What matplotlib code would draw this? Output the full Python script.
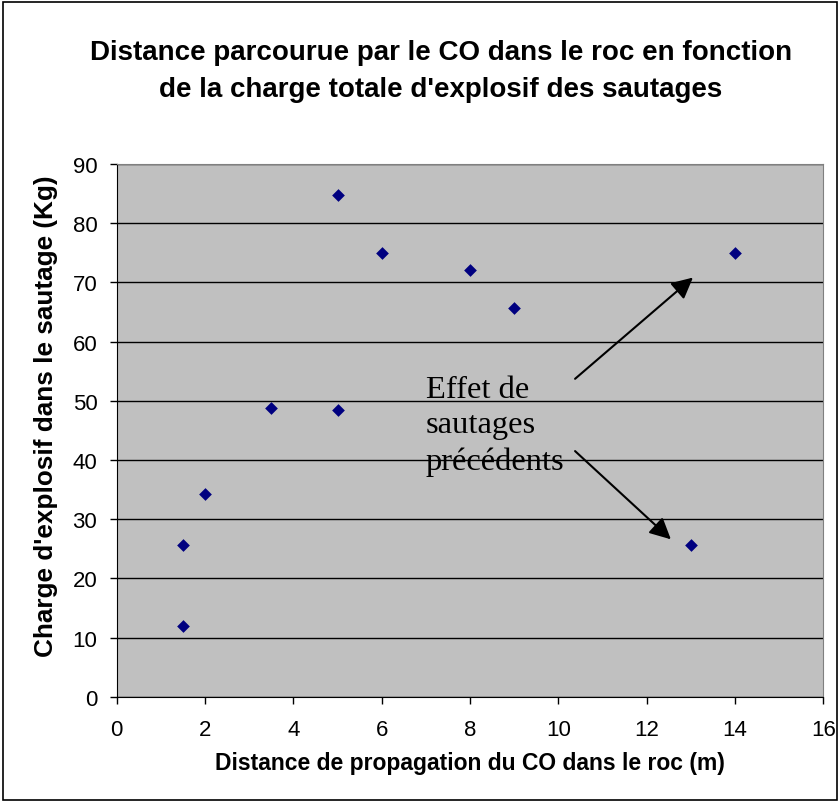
#!/usr/bin/env python3

"""
Scatter: CO propagation distance vs total explosive charge.
"""

import matplotlib
matplotlib.use("Agg")
import matplotlib.pyplot as plt
from matplotlib.patches import Rectangle

distance = [1.5, 1.5, 2, 3.5, 5, 5, 6, 8, 9, 13, 14]
charge = [12, 25.7, 34.3, 48.8, 48.5, 84.7, 75, 72, 65.7, 25.7, 75]

x_ticks = list(range(0, 17, 2))
y_ticks = list(range(0, 91, 10))

title = ("Distance parcourue par le CO dans le roc en fonction\n"
         "de la charge totale d'explosif des sautages")
x_label = "Distance de propagation du CO dans le roc (m)"
y_label = "Charge d'explosif dans le sautage (Kg)"
note = "Effet de\nsautages\nprécédents"

# arrow (tail, head) in data coords
arrows = [((10.38, 53.7), (13.05, 70.8)),
          ((10.38, 41.5), (12.55, 26.6))]


def main():
    plt.rcParams['font.family'] = ['Liberation Sans', 'DejaVu Sans']
    fig = plt.figure(figsize=(8.4, 8.04), dpi=100)
    ax = fig.add_axes([0.139, 0.132, 0.841, 0.663])

    # outer chart border
    fig.patches.append(Rectangle((0.004, 0.004), 0.992, 0.992, transform=fig.transFigure,
                                 fill=False, edgecolor='black', linewidth=1.2))

    ax.set_facecolor('#c0c0c0')
    ax.scatter(distance, charge, marker='D', s=42, color='#000080', zorder=3,
               linewidths=0)

    ax.set_xlim(0, 16)
    ax.set_ylim(0, 90)
    ax.set_xticks(x_ticks)
    ax.set_yticks(y_ticks)
    ax.tick_params(direction='out', length=5, labelsize=16, width=1)
    ax.tick_params(axis='x', pad=11)
    ax.tick_params(axis='y', pad=9)
    ax.yaxis.grid(True, color='black', linewidth=1)
    ax.set_axisbelow(True)
    for side in ['top', 'right']:
        ax.spines[side].set_color('#808080')
    for side in ['left', 'bottom']:
        ax.spines[side].set_color('black')

    ax.set_xlabel(x_label, fontsize=16.5, fontweight='bold', labelpad=8)
    ax.set_ylabel(y_label, fontsize=18.8, fontweight='bold')
    ax.yaxis.set_label_coords(-0.083, 0.529)
    fig.text(0.525, 0.911, title, ha='center', va='center', fontsize=20,
             fontweight='bold', linespacing=1.55)

    ax.text(7.0, 54.4, note, fontsize=23.4, family='Liberation Serif',
            va='top', ha='left', linespacing=1.3)
    for tail, head in arrows:
        ax.annotate('', xy=head, xytext=tail,
                    arrowprops=dict(arrowstyle='-|>', color='black', lw=1.5,
                                    mutation_scale=32, shrinkA=0, shrinkB=0))

    fig.savefig('out.png', dpi=100)


if __name__ == '__main__':
    main()
